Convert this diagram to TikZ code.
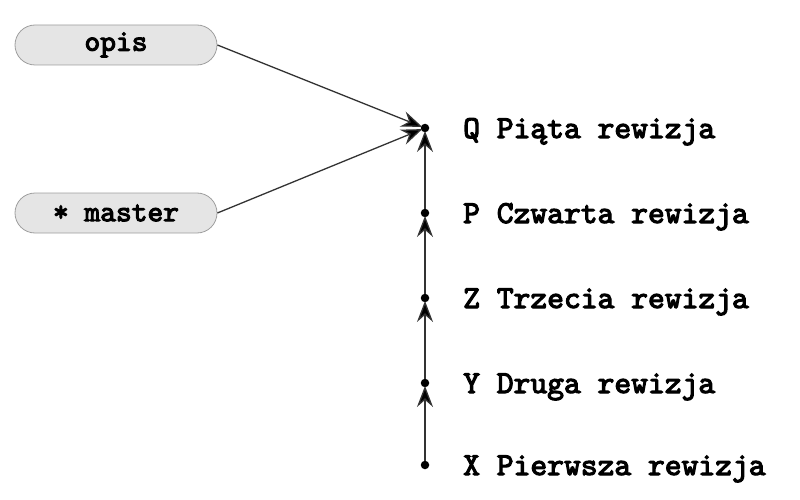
\documentclass[tikz,border=0pt]{standalone}
\usepackage{fontspec}
\newfontfamily\cbold{lmmono10-regular.otf}[FakeBold=3.5]
\usetikzlibrary{arrows.meta}
\begin{document}
\begin{tikzpicture}[x=1pt,y=-1pt,
  refbox/.style={draw=black!38,fill=black!10,rounded corners=20pt,minimum width=202pt,minimum height=40pt,inner sep=0pt,line width=0.8pt,font=\cbold\fontsize{30}{32}\selectfont},
  commit/.style={circle,fill=black,inner sep=0pt,minimum size=8.5pt},
  clabel/.style={anchor=base west,inner sep=0pt,font=\cbold\fontsize{32}{34}\selectfont},
  link/.style={line width=1.3pt,draw=black!80,-{Stealth[length=21pt,width=16pt,inset=7pt,fill=black]},shorten >=-1.5pt}
]
\useasboundingbox (0,0) rectangle (800,500);
\node[refbox] (opis) at (116,45) {opis};
\node[refbox] (master) at (116,213) {* master};
\node[commit] (q) at (425,128) {};
\node[commit] (p) at (425,213) {};
\node[commit] (z) at (425,298) {};
\node[commit] (y) at (425,383) {};
\node[commit] (x) at (425,465) {};
\node[clabel] (lq) at (463,138) {Q Piąta rewizja};
\node[clabel] (lp) at (463,223) {P Czwarta rewizja};
\node[clabel] (lz) at (463,308) {Z Trzecia rewizja};
\node[clabel] (ly) at (463,393) {Y Druga rewizja};
\node[clabel] (lx) at (463,475) {X Pierwsza rewizja};
\draw[link] (x) -- (y);
\draw[link] (y) -- (z);
\draw[link] (z) -- (p);
\draw[link] (p) -- (q);
\draw[link] (opis.east) -- (q);
\draw[link] (master.east) -- (q);
\end{tikzpicture}
\end{document}
